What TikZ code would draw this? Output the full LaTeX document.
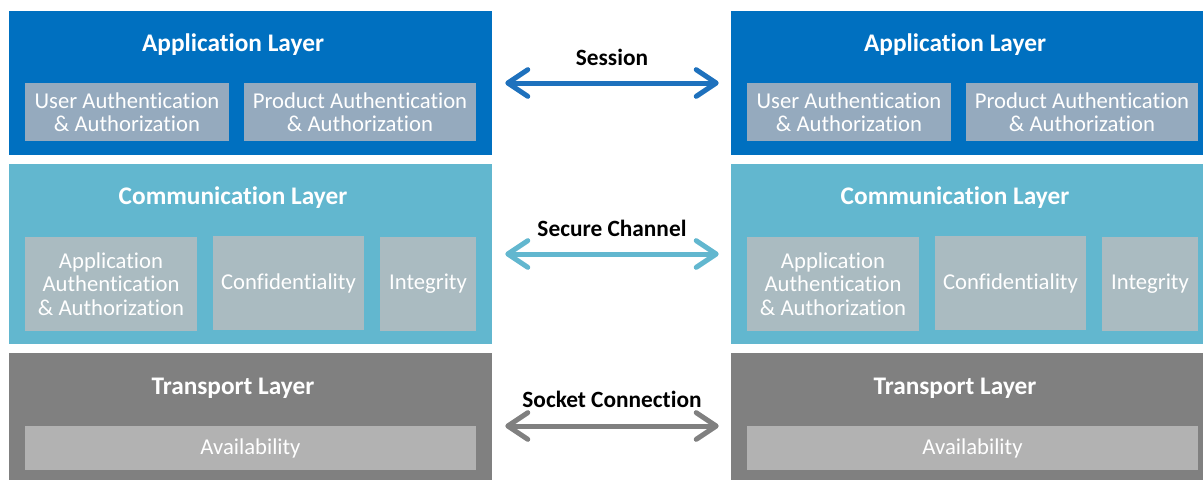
\documentclass[tikz,border=0pt]{standalone}
\usepackage{fontspec}
\setmainfont{Carlito}[Ligatures=NoCommon]
\usepackage{xcolor}
\usetikzlibrary{arrows.meta}

\definecolor{appblue}{HTML}{0070C0}
\definecolor{appcell}{HTML}{95AABE}
\definecolor{comblue}{HTML}{62B7CF}
\definecolor{comcell}{HTML}{AABBC1}
\definecolor{trgray}{HTML}{808080}
\definecolor{trcell}{HTML}{B2B2B2}
\definecolor{sessblue}{HTML}{1E71BD}

\tikzset{
  layer/.style={rectangle, inner sep=0pt, minimum width=362.25pt},
  layertitle/.style={text=white, font=\fontsize{19}{19}\selectfont\bfseries},
  cell/.style={rectangle, inner sep=0pt, text=white, align=center,
    font=\fontsize{17}{17.5}\selectfont},
  link/.style={line width=3.75pt,
    {Straight Barb[length=15pt, width=20pt, round]}-{Straight Barb[length=15pt, width=20pt, round]},
    shorten <=9.75pt, shorten >=9pt},
  linklabel/.style={text=black, font=\fontsize{17.5}{18}\selectfont\bfseries}
}

\begin{document}
\begin{tikzpicture}
\begin{scope}[x=0.75pt,y=-0.75pt]
\path[use as bounding box, clip] (0,0) rectangle (1203,479);
% couches de gauche
\node (appL) at (250.5,83) [layer, fill=appblue, minimum height=108pt] {};
\node (comL) at (250.5,254) [layer, fill=comblue, minimum height=135pt] {};
\node (trL) at (250.5,426) [layer, fill=trgray, minimum height=109.5pt] {};
\node (appTL) at (233,45) [layertitle] {Application Layer};
\node (comTL) at (233,198) [layertitle] {Communication Layer};
\node (trTL) at (233,388) [layertitle] {Transport Layer};
\node (uaL) at (127,112) [cell, fill=appcell, minimum width=153pt, minimum height=43.5pt] {User Authentication\\\& Authorization};
\node (paL) at (360,112) [cell, fill=appcell, minimum width=174pt, minimum height=43.5pt] {Product Authentication\\\& Authorization};
\node (aaL) at (111,284) [cell, fill=comcell, minimum width=129pt, minimum height=70.5pt] {Application\\Authentication\\\& Authorization};
\node (cfL) at (288.5,283) [cell, fill=comcell, minimum width=113.25pt, minimum height=70.5pt] {Confidentiality};
\node (igL) at (428,284) [cell, fill=comcell, minimum width=72pt, minimum height=70.5pt] {Integrity};
\node (avL) at (250.5,448) [cell, fill=trcell, minimum width=338.25pt, minimum height=33pt] {Availability};
% couches de droite
\node (appR) at (972.5,83) [layer, fill=appblue, minimum height=108pt] {};
\node (comR) at (972.5,254) [layer, fill=comblue, minimum height=135pt] {};
\node (trR) at (972.5,426) [layer, fill=trgray, minimum height=109.5pt] {};
\node (appTR) at (955,45) [layertitle] {Application Layer};
\node (comTR) at (955,198) [layertitle] {Communication Layer};
\node (trTR) at (955,388) [layertitle] {Transport Layer};
\node (uaR) at (849,112) [cell, fill=appcell, minimum width=153pt, minimum height=43.5pt] {User Authentication\\\& Authorization};
\node (paR) at (1082,112) [cell, fill=appcell, minimum width=174pt, minimum height=43.5pt] {Product Authentication\\\& Authorization};
\node (aaR) at (833,284) [cell, fill=comcell, minimum width=129pt, minimum height=70.5pt] {Application\\Authentication\\\& Authorization};
\node (cfR) at (1010.5,283) [cell, fill=comcell, minimum width=113.25pt, minimum height=70.5pt] {Confidentiality};
\node (igR) at (1150,284) [cell, fill=comcell, minimum width=72pt, minimum height=70.5pt] {Integrity};
\node (avR) at (972.5,448) [cell, fill=trcell, minimum width=338.25pt, minimum height=33pt] {Availability};
% liens entre les couches
\node (sess) at (612,57) [linklabel] {Session};
\node (sec) at (612,228) [linklabel] {Secure Channel};
\node (sock) at (612,399) [linklabel] {Socket Connection};
\draw[link, sessblue] (appL) -- (appR);
\draw[link, comblue] (comL) -- (comR);
\draw[link, trgray] (trL) -- (trR);
\end{scope}
\end{tikzpicture}
\end{document}
